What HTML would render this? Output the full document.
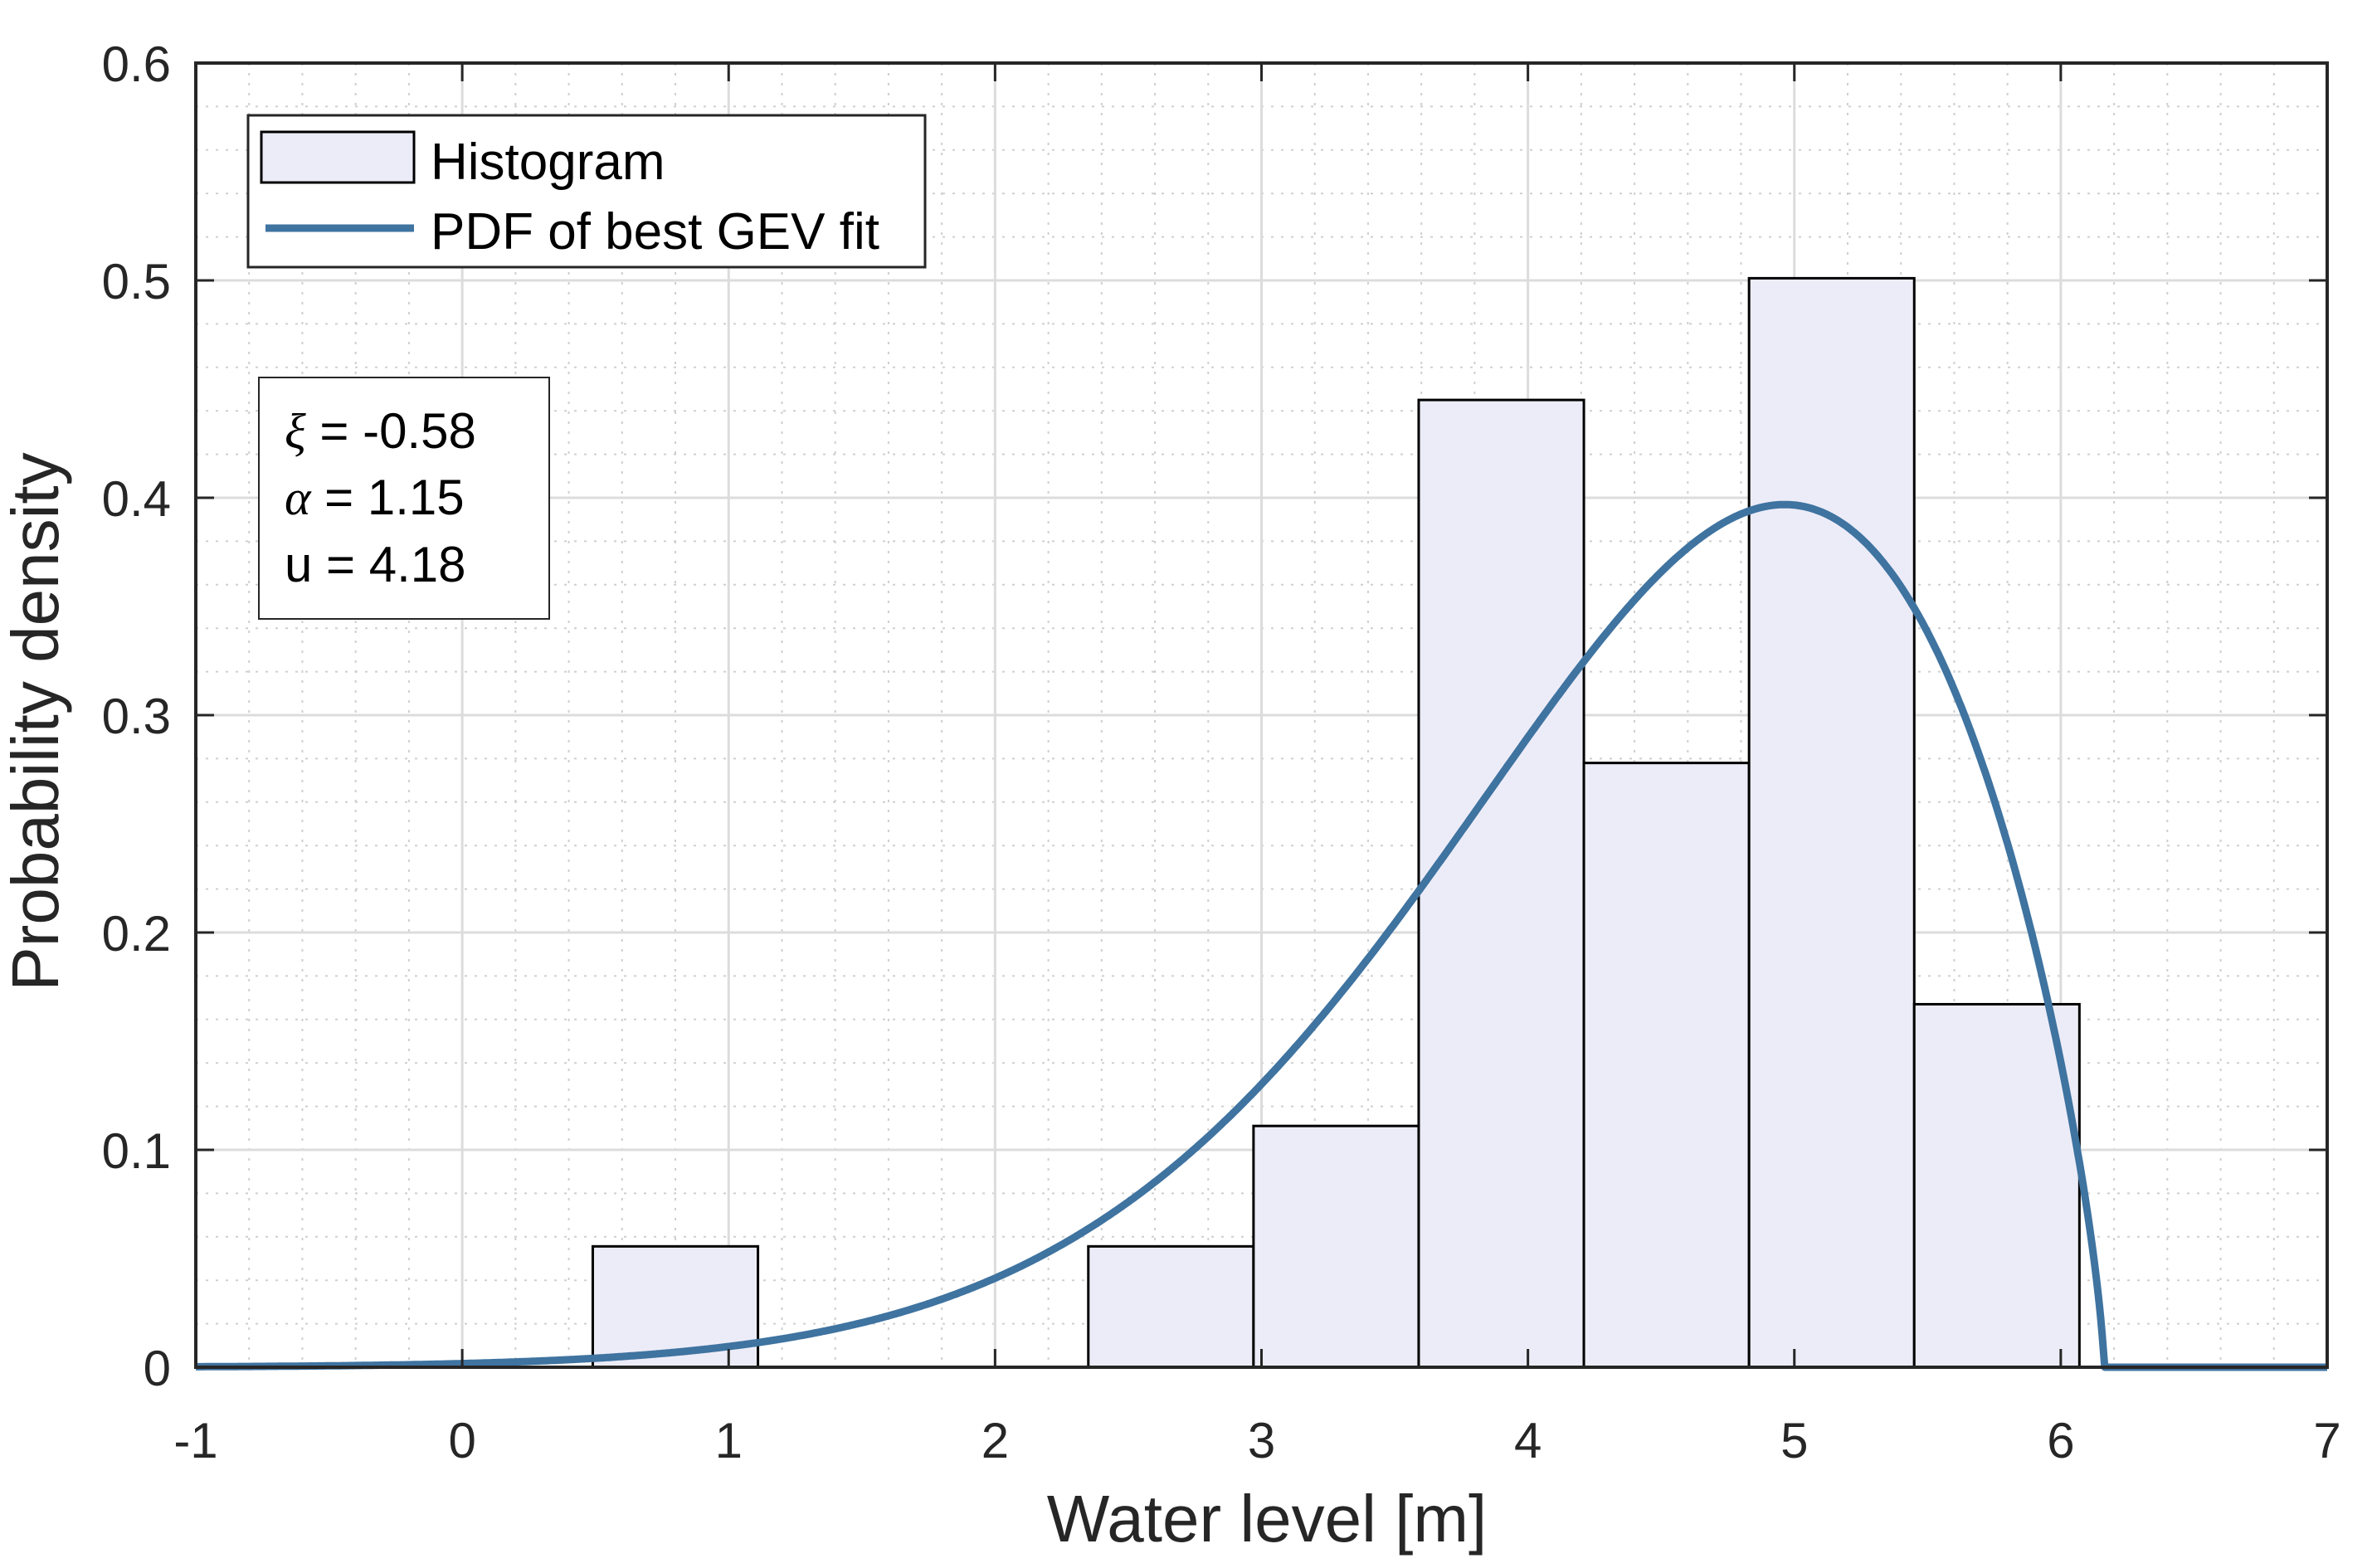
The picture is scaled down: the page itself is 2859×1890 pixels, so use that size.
<!DOCTYPE html>
<html><head><meta charset="utf-8">
<style>
html,body{margin:0;padding:0;background:#fff;}
svg{display:block;font-family:"Liberation Sans",Arial,sans-serif;}
</style></head>
<body>
<svg id="chart" width="2859" height="1890" viewBox="0 0 2859 1890" xmlns="http://www.w3.org/2000/svg">
  <rect x="0" y="0" width="2859" height="1890" fill="#fff"/>
  <g id="grid"></g>
  <g id="bars"></g>
  <g id="curve"></g>
  <g id="axes"></g>
  <g id="ticks"></g>
  <text x="1527" y="1858" font-size="80" text-anchor="middle" fill="#262626">Water level [m]</text>
  <text transform="translate(70,870) rotate(-90)" font-size="80" text-anchor="middle" fill="#262626">Probability density</text>
  <g>
    <rect x="299" y="139" width="816" height="183" fill="#fff" stroke="#262626" stroke-width="3"/>
    <rect x="315" y="159" width="184" height="61" fill="#ececf8" stroke="#000" stroke-width="3"/>
    <text x="519" y="216" font-size="62" fill="#000">Histogram</text>
    <line x1="320" y1="275" x2="499" y2="275" stroke="#3f73a0" stroke-width="9"/>
    <text x="519" y="300" font-size="62" fill="#000">PDF of best GEV fit</text>
  </g>
  <g>
    <rect x="312" y="455" width="350" height="291" fill="#fff" stroke="#262626" stroke-width="2"/>
    <text x="343" y="540" font-size="60" fill="#000"><tspan font-family="Liberation Serif" font-style="italic">ξ</tspan> = -0.58</text>
    <text x="343" y="620" font-size="60" fill="#000"><tspan font-family="Liberation Serif" font-style="italic">α</tspan> = 1.15</text>
    <text x="343" y="701" font-size="60" fill="#000">u = 4.18</text>
  </g>
</svg>
<script>
const binEdges = [0.49,1.11,1.73,2.35,2.97,3.59,4.21,4.83,5.45,6.07];
const binDensity = [0.0556,0,0,0.0556,0.111,0.445,0.278,0.501,0.167];
const gevParams = [-0.58, 1.15, 4.18]; // shape xi, scale alpha, location u
const xTicks = [-1,0,1,2,3,4,5,6,7];
const xTickLabels = ["-1","0","1","2","3","4","5","6","7"];
const yTicks = [0,0.1,0.2,0.3,0.4,0.5,0.6];
const yTickLabels = ["0","0.1","0.2","0.3","0.4","0.5","0.6"];

const NS = "http://www.w3.org/2000/svg";
const L=236,R=2805,T=76,B=1648, XMIN=-1,XMAX=7,YMIN=0,YMAX=0.6;
function sx(v){return L+(v-XMIN)/(XMAX-XMIN)*(R-L);}
function sy(v){return B-(v-YMIN)/(YMAX-YMIN)*(B-T);}
function mk(tag,attrs,parent){const e=document.createElementNS(NS,tag);for(const k in attrs)e.setAttribute(k,attrs[k]);parent.appendChild(e);return e;}

const grid=document.getElementById('grid');
for(let i=0;i<=40;i++){const v=XMIN+i*0.2;if(i%5===0)continue;
  const l=mk('line',{x1:sx(v),x2:sx(v),y1:T,y2:B,stroke:'#cfcfcf','stroke-width':2,'stroke-dasharray':'3,9'},grid);
  
  }
for(let i=0;i<=30;i++){const v=i*0.02;if(i%5===0)continue;
  const l=mk('line',{x1:L,x2:R,y1:sy(v),y2:sy(v),stroke:'#cfcfcf','stroke-width':2,'stroke-dasharray':'3,9'},grid);
  
  }
xTicks.forEach(v=>{const l=mk('line',{x1:sx(v),x2:sx(v),y1:T,y2:B,stroke:'#dcdcdc','stroke-width':3},grid);
  
  });
yTicks.forEach(v=>{const l=mk('line',{x1:L,x2:R,y1:sy(v),y2:sy(v),stroke:'#dcdcdc','stroke-width':3},grid);
  
  });

const bars=document.getElementById('bars');
binDensity.forEach((d,i)=>{if(d<=0)return;
  const x0=sx(binEdges[i]),x1=sx(binEdges[i+1]);
  const r=mk('rect',{x:x0,y:sy(d),width:x1-x0,height:sy(0)-sy(d),fill:'#ececf8',stroke:'#000','stroke-width':3},bars);
  
  });

const [k,sig,mu]=gevParams;
function pdf(x){const z=(x-mu)/sig;const a=1+k*z;if(a<=0)return 0;const t=Math.pow(a,-1/k);return Math.pow(t,k+1)*Math.exp(-t)/sig;}
let d='';const N=1600;
for(let i=0;i<=N;i++){const x=XMIN+(XMAX-XMIN)*i/N;d+=(i?'L':'M')+sx(x).toFixed(1)+','+sy(pdf(x)).toFixed(1);}
const p=mk('path',{d:d,fill:'none',stroke:'#3f73a0','stroke-width':9,'stroke-linejoin':'round'},document.getElementById('curve'));



const axes=document.getElementById('axes');
const box=mk('rect',{x:L,y:T,width:R-L,height:B-T,fill:'none',stroke:'#262626','stroke-width':4},axes);


xTicks.forEach(v=>{mk('line',{x1:sx(v),x2:sx(v),y1:B,y2:B-22,stroke:'#262626','stroke-width':3},axes);mk('line',{x1:sx(v),x2:sx(v),y1:T,y2:T+22,stroke:'#262626','stroke-width':3},axes);});
yTicks.forEach(v=>{mk('line',{x1:L,x2:L+22,y1:sy(v),y2:sy(v),stroke:'#262626','stroke-width':3},axes);mk('line',{x1:R,x2:R-22,y1:sy(v),y2:sy(v),stroke:'#262626','stroke-width':3},axes);});

const ticks=document.getElementById('ticks');
xTicks.forEach((v,i)=>{const t=mk('text',{x:sx(v),y:1757,'font-size':60,'text-anchor':'middle',fill:'#262626'},ticks);t.textContent=xTickLabels[i];
  
  });
yTicks.forEach((v,i)=>{const t=mk('text',{x:206,y:sy(v)+22,'font-size':60,'text-anchor':'end',fill:'#262626'},ticks);t.textContent=yTickLabels[i];
  
  });
</script>
</body></html>
